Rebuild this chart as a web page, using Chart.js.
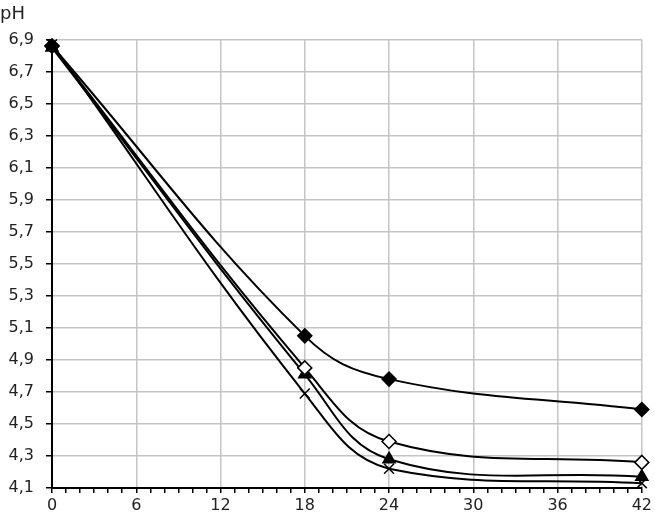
<!DOCTYPE html>
<html>
<head>
<meta charset="utf-8">
<script src="https://cdn.jsdelivr.net/npm/chart.js@4/dist/chart.umd.min.js"></script>
<style>
  body { margin: 0; background: #fff; }
  #wrap { width: 655px; height: 524px; }
</style>
</head>
<body>
<div id="wrap"><canvas id="ph-chart" width="655" height="524"></canvas></div>
<script>
const hours = [0, 18, 24, 42];
const phFilledDiamond = [6.86, 5.05, 4.78, 4.59];
const phOpenDiamond = [6.86, 4.85, 4.39, 4.26];
const phTriangle = [6.85, 4.81, 4.28, 4.17];
const phCross = [6.87, 4.69, 4.22, 4.13];

const toPoints = vals => hours.map((h, i) => ({ x: h, y: vals[i] }));

const lineDefaults = {
  borderColor: "#000",
  borderWidth: 2,
  tension: 0.4,
  clip: false,
  pointBorderColor: "#000",
  pointBorderWidth: 1.5
};

const ctx = document.getElementById("ph-chart").getContext("2d");

new Chart(ctx, {
  type: "line",
  data: {
    datasets: [
      { ...lineDefaults, data: toPoints(phFilledDiamond), pointStyle: "rectRot", pointRadius: 7, pointBackgroundColor: "#000" },
      { ...lineDefaults, data: toPoints(phOpenDiamond), pointStyle: "rectRot", pointRadius: 7, pointBackgroundColor: "#fff" },
      { ...lineDefaults, data: toPoints(phTriangle), pointStyle: "triangle", pointRadius: 7, pointBackgroundColor: "#000" },
      { ...lineDefaults, data: toPoints(phCross), pointStyle: "crossRot", pointRadius: 7, pointBorderWidth: 1.5 }
    ]
  },
  options: {
    responsive: false,
    animation: false,
    layout: { padding: { left: 0, right: 1, top: 0, bottom: 0 } },
    plugins: {
      legend: { display: false },
      tooltip: { enabled: false },
      title: {
        display: true,
        text: "pH",
        align: "start",
        color: "#222",
        font: { family: "DejaVu Sans", size: 18, weight: "normal" },
        padding: { top: 4, bottom: 14 }
      }
    },
    scales: {
      x: {
        type: "linear",
        min: 0,
        max: 42,
        afterFit: s => { s.height = 36; },
        ticks: {
          stepSize: 1,
          autoSkip: false,
          maxRotation: 0,
          color: "#222",
          font: { family: "DejaVu Sans", size: 16 },
          padding: 3,
          callback: v => (v % 6 === 0 ? String(v) : "")
        },
        grid: {
          color: c => (c.tick && c.tick.value % 6 === 0 ? "#c4c4c4" : "rgba(0,0,0,0)"),
          tickColor: "#000",
          tickLength: 5,
          lineWidth: 1.5
        },
        border: { color: "#000", width: 2 }
      },
      y: {
        min: 4.1,
        max: 6.9,
        afterFit: s => { s.width = 52; },
        ticks: {
          stepSize: 0.2,
          color: "#222",
          font: { family: "DejaVu Sans", size: 16 },
          padding: 12,
          callback: v => v.toFixed(1).replace(".", ",")
        },
        grid: {
          color: "#c4c4c4",
          tickColor: "#000",
          tickLength: 6,
          lineWidth: 1.5
        },
        border: { color: "#000", width: 2 }
      }
    }
  }
});
</script>
</body>
</html>
